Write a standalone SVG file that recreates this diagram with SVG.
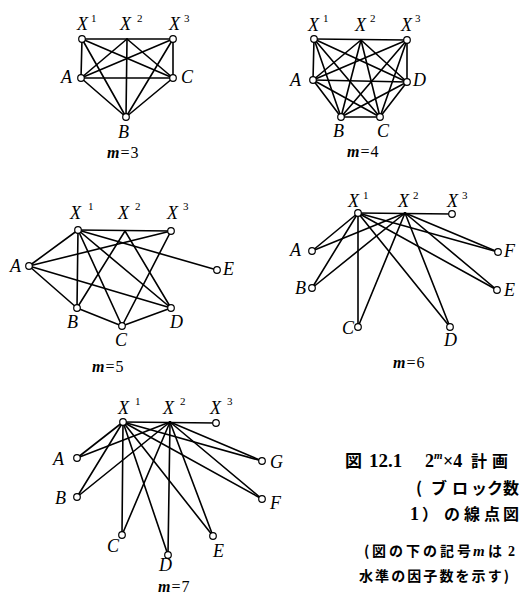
<svg xmlns="http://www.w3.org/2000/svg" width="520" height="601" viewBox="0 0 520 601">
<style>
.e line{stroke:#000;stroke-width:1.6;stroke-linecap:round}
circle.n{fill:#fff;stroke:#000;stroke-width:1.2}
.lb{font-family:"Liberation Serif",serif;font-style:italic;font-size:18px;fill:#000}
.sp{font-family:"Liberation Serif",serif;font-style:normal;font-size:11px;fill:#000}
.mm{font-family:"Liberation Serif",serif;font-size:16px;fill:#000}
.mi{font-style:italic;font-weight:bold}
.cj{font-family:"Noto Sans CJK JP",sans-serif;font-weight:bold;fill:#000}
.dg{font-family:"Liberation Serif",serif;font-weight:bold;fill:#000}
</style>
<rect width="520" height="601" fill="#fff"/>

<!-- ===== m=3 ===== -->
<g id="g3-edges" class="e">
<line x1="82" y1="39" x2="173" y2="39"/>
<line x1="82" y1="39" x2="81" y2="78"/><line x1="82" y1="39" x2="173" y2="78"/><line x1="82" y1="39" x2="126" y2="117"/>
<line x1="127" y1="39" x2="81" y2="78"/><line x1="127" y1="39" x2="173" y2="78"/><line x1="127" y1="39" x2="126" y2="117"/>
<line x1="173" y1="39" x2="81" y2="78"/><line x1="173" y1="39" x2="173" y2="78"/><line x1="173" y1="39" x2="126" y2="117"/>
<line x1="81" y1="78" x2="173" y2="78"/><line x1="81" y1="78" x2="126" y2="117"/><line x1="173" y1="78" x2="126" y2="117"/>
</g>
<g id="g3-X1"><circle class="n" cx="82" cy="39" r="3.3"/><text class="lb" x="77" y="30">X</text><text class="sp" x="91" y="22">1</text></g>
<g id="g3-X2"><text class="lb" x="120" y="30">X</text><text class="sp" x="137" y="22">2</text></g>
<g id="g3-X3"><circle class="n" cx="173" cy="39" r="3.3"/><text class="lb" x="169" y="30">X</text><text class="sp" x="184" y="22">3</text></g>
<g id="g3-A"><circle class="n" cx="81" cy="78" r="3.3"/><text class="lb" x="61" y="83">A</text></g>
<g id="g3-C"><circle class="n" cx="173" cy="78" r="3.3"/><text class="lb" x="181" y="83">C</text></g>
<g id="g3-B"><circle class="n" cx="126" cy="117" r="3.3"/><text class="lb" x="118" y="138">B</text></g>
<text class="mm" x="107" y="158"><tspan class="mi">m</tspan><tspan dx="1">=</tspan><tspan dx="1">3</tspan></text>

<!-- ===== m=4 ===== -->
<g id="g4-edges" class="e">
<line x1="314" y1="39" x2="407" y2="40"/>
<line x1="314" y1="39" x2="313" y2="80"/><line x1="314" y1="39" x2="341" y2="117"/><line x1="314" y1="39" x2="380" y2="117"/><line x1="314" y1="39" x2="407" y2="82"/>
<line x1="361" y1="40" x2="313" y2="80"/><line x1="361" y1="40" x2="341" y2="117"/><line x1="361" y1="40" x2="380" y2="117"/><line x1="361" y1="40" x2="407" y2="82"/>
<line x1="407" y1="40" x2="313" y2="80"/><line x1="407" y1="40" x2="341" y2="117"/><line x1="407" y1="40" x2="380" y2="117"/><line x1="407" y1="40" x2="407" y2="82"/>
<line x1="313" y1="80" x2="341" y2="117"/><line x1="313" y1="80" x2="380" y2="117"/><line x1="313" y1="80" x2="407" y2="82"/>
<line x1="341" y1="117" x2="380" y2="117"/><line x1="341" y1="117" x2="407" y2="82"/><line x1="380" y1="117" x2="407" y2="82"/>
</g>
<g id="g4-X1"><circle class="n" cx="314" cy="39" r="3.3"/><text class="lb" x="308" y="31">X</text><text class="sp" x="323" y="22">1</text></g>
<g id="g4-X2"><text class="lb" x="355" y="31">X</text><text class="sp" x="370" y="22">2</text></g>
<g id="g4-X3"><circle class="n" cx="407" cy="40" r="3.3"/><text class="lb" x="401" y="31">X</text><text class="sp" x="415" y="22">3</text></g>
<g id="g4-A"><circle class="n" cx="313" cy="80" r="3.3"/><text class="lb" x="290" y="86">A</text></g>
<g id="g4-D"><circle class="n" cx="407" cy="82" r="3.3"/><text class="lb" x="413" y="86">D</text></g>
<g id="g4-B"><circle class="n" cx="341" cy="117" r="3.3"/><text class="lb" x="333" y="137">B</text></g>
<g id="g4-C"><circle class="n" cx="380" cy="117" r="3.3"/><text class="lb" x="377" y="137">C</text></g>
<text class="mm" x="347" y="157"><tspan class="mi">m</tspan><tspan dx="1">=</tspan><tspan dx="1">4</tspan></text>

<!-- ===== m=5 ===== -->
<g id="g5-edges" class="e">
<line x1="78" y1="230" x2="171" y2="231"/>
<line x1="78" y1="230" x2="29" y2="266"/><line x1="78" y1="230" x2="77" y2="308"/><line x1="78" y1="230" x2="122" y2="326"/><line x1="78" y1="230" x2="171" y2="308"/><line x1="78" y1="230" x2="217" y2="270"/>
<line x1="125" y1="231" x2="77" y2="308"/><line x1="125" y1="231" x2="171" y2="308"/>
<line x1="171" y1="231" x2="29" y2="266"/><line x1="171" y1="231" x2="122" y2="326"/>
<line x1="29" y1="266" x2="77" y2="308"/><line x1="29" y1="266" x2="171" y2="308"/>
<line x1="77" y1="308" x2="122" y2="326"/><line x1="122" y1="326" x2="171" y2="308"/>
</g>
<g id="g5-X1"><circle class="n" cx="78" cy="230" r="3.3"/><text class="lb" x="70" y="219">X</text><text class="sp" x="88" y="210">1</text></g>
<g id="g5-X2"><text class="lb" x="118" y="219">X</text><text class="sp" x="135" y="210">2</text></g>
<g id="g5-X3"><circle class="n" cx="171" cy="231" r="3.3"/><text class="lb" x="167" y="219">X</text><text class="sp" x="183" y="210">3</text></g>
<g id="g5-A"><circle class="n" cx="29" cy="266" r="3.3"/><text class="lb" x="10" y="272">A</text></g>
<g id="g5-E"><circle class="n" cx="217" cy="270" r="3.3"/><text class="lb" x="223" y="275">E</text></g>
<g id="g5-B"><circle class="n" cx="77" cy="308" r="3.3"/><text class="lb" x="67" y="328">B</text></g>
<g id="g5-D"><circle class="n" cx="171" cy="308" r="3.3"/><text class="lb" x="170" y="328">D</text></g>
<g id="g5-C"><circle class="n" cx="122" cy="326" r="3.3"/><text class="lb" x="115" y="346">C</text></g>
<text class="mm" x="92" y="372"><tspan class="mi">m</tspan><tspan dx="1">=</tspan><tspan dx="1">5</tspan></text>

<!-- ===== m=6 ===== -->
<g id="g6-edges" class="e">
<line x1="358" y1="213" x2="452" y2="214"/>
<line x1="358" y1="213" x2="312" y2="251"/><line x1="358" y1="213" x2="312" y2="288"/><line x1="358" y1="213" x2="358" y2="327"/><line x1="358" y1="213" x2="450" y2="327"/><line x1="358" y1="213" x2="497" y2="290"/><line x1="358" y1="213" x2="498" y2="252"/>
<line x1="405" y1="213" x2="312" y2="251"/><line x1="405" y1="213" x2="312" y2="288"/><line x1="405" y1="213" x2="358" y2="327"/><line x1="405" y1="213" x2="450" y2="327"/><line x1="405" y1="213" x2="497" y2="290"/><line x1="405" y1="213" x2="498" y2="252"/>
</g>
<g id="g6-X1"><circle class="n" cx="358" cy="213" r="3.3"/><text class="lb" x="348" y="207">X</text><text class="sp" x="363" y="199">1</text></g>
<g id="g6-X2"><text class="lb" x="398" y="207">X</text><text class="sp" x="413" y="199">2</text></g>
<g id="g6-X3"><circle class="n" cx="452" cy="214" r="3.3"/><text class="lb" x="447" y="207">X</text><text class="sp" x="462" y="199">3</text></g>
<g id="g6-A"><circle class="n" cx="312" cy="251" r="3.3"/><text class="lb" x="290" y="256">A</text></g>
<g id="g6-B"><circle class="n" cx="312" cy="288" r="3.3"/><text class="lb" x="295" y="294">B</text></g>
<g id="g6-C"><circle class="n" cx="358" cy="327" r="3.3"/><text class="lb" x="342" y="334">C</text></g>
<g id="g6-D"><circle class="n" cx="450" cy="327" r="3.3"/><text class="lb" x="444" y="346">D</text></g>
<g id="g6-E"><circle class="n" cx="497" cy="290" r="3.3"/><text class="lb" x="504" y="296">E</text></g>
<g id="g6-F"><circle class="n" cx="498" cy="252" r="3.3"/><text class="lb" x="504" y="257">F</text></g>
<text class="mm" x="393" y="368"><tspan class="mi">m</tspan><tspan dx="1">=</tspan><tspan dx="1">6</tspan></text>

<!-- ===== m=7 ===== -->
<g id="g7-edges" class="e">
<line x1="123" y1="422" x2="216" y2="423"/>
<line x1="123" y1="422" x2="77" y2="458"/><line x1="123" y1="422" x2="77" y2="497"/><line x1="123" y1="422" x2="122" y2="535"/><line x1="123" y1="422" x2="168" y2="555"/><line x1="123" y1="422" x2="213" y2="536"/><line x1="123" y1="422" x2="262" y2="499"/><line x1="123" y1="422" x2="262" y2="461"/>
<line x1="170" y1="422" x2="77" y2="458"/><line x1="170" y1="422" x2="77" y2="497"/><line x1="170" y1="422" x2="122" y2="535"/><line x1="170" y1="422" x2="168" y2="555"/><line x1="170" y1="422" x2="213" y2="536"/><line x1="170" y1="422" x2="262" y2="499"/><line x1="170" y1="422" x2="262" y2="461"/>
</g>
<g id="g7-X1"><circle class="n" cx="123" cy="422" r="3.3"/><text class="lb" x="118" y="414">X</text><text class="sp" x="135" y="405">1</text></g>
<g id="g7-X2"><text class="lb" x="163" y="414">X</text><text class="sp" x="180" y="405">2</text></g>
<g id="g7-X3"><circle class="n" cx="216" cy="423" r="3.3"/><text class="lb" x="210" y="414">X</text><text class="sp" x="227" y="405">3</text></g>
<g id="g7-A"><circle class="n" cx="77" cy="458" r="3.3"/><text class="lb" x="53" y="465">A</text></g>
<g id="g7-B"><circle class="n" cx="77" cy="497" r="3.3"/><text class="lb" x="55" y="504">B</text></g>
<g id="g7-C"><circle class="n" cx="122" cy="535" r="3.3"/><text class="lb" x="107" y="552">C</text></g>
<g id="g7-D"><circle class="n" cx="168" cy="555" r="3.3"/><text class="lb" x="159" y="571">D</text></g>
<g id="g7-E"><circle class="n" cx="213" cy="536" r="3.3"/><text class="lb" x="213" y="557">E</text></g>
<g id="g7-F"><circle class="n" cx="262" cy="499" r="3.3"/><text class="lb" x="270" y="509">F</text></g>
<g id="g7-G"><circle class="n" cx="262" cy="461" r="3.3"/><text class="lb" x="270" y="468">G</text></g>
<text class="mm" x="158" y="592"><tspan class="mi">m</tspan><tspan dx="1">=</tspan><tspan dx="1">7</tspan></text>

<!-- ===== caption ===== -->
<g id="caption">
<text class="cj" x="345" y="467" font-size="17">図</text>
<text class="dg" x="369" y="467" font-size="19">12.1</text>
<text class="dg" x="425" y="467" font-size="18">2</text>
<text class="dg" x="434" y="459" font-size="11" font-style="italic">m</text>
<text class="dg" x="443" y="467" font-size="18">×4</text>
<text class="cj" x="471" y="467" font-size="16"><tspan>計</tspan><tspan x="492">画</tspan></text>
<text class="cj" y="494" font-size="16"><tspan x="416">(</tspan><tspan x="431">ブ</tspan><tspan x="452">ロ</tspan><tspan x="471">ッ</tspan><tspan x="487">ク</tspan><tspan x="503">数</tspan></text>
<text class="dg" x="410" y="520" font-size="18">1</text>
<text class="cj" y="520" font-size="16"><tspan x="422">）</tspan><tspan x="444">の</tspan><tspan x="464">線</tspan><tspan x="484">点</tspan><tspan x="503">図</tspan></text>
<text class="cj" y="556" font-size="14"><tspan x="364">(</tspan><tspan x="372">図</tspan><tspan x="389">の</tspan><tspan x="406">下</tspan><tspan x="423">の</tspan><tspan x="440">記</tspan><tspan x="457">号</tspan></text>
<text class="dg" x="473" y="556" font-size="15" font-style="italic">m</text>
<text class="cj" x="488" y="556" font-size="14">は</text>
<text class="dg" x="508" y="556" font-size="14">2</text>
<text class="cj" x="359" y="581" font-size="14" textLength="150" lengthAdjust="spacing">水準の因子数を示す)</text>
</g>
</svg>
